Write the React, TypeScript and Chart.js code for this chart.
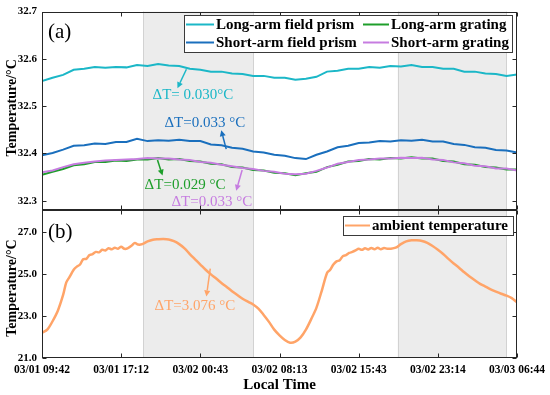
import React, { useEffect, useRef } from 'react';
import { Chart, registerables } from 'chart.js';

Chart.register(...registerables);

const FONT = '"Liberation Serif", "Times New Roman", serif';

// ---- Data ----
const tickHours = [0, 7.5, 15, 22.5, 30, 37.5, 45];
const tickLabels = ['03/01 09:42', '03/01 17:12', '03/02 00:43', '03/02 08:13', '03/02 15:43', '03/02 23:14', '03/03 06:44'];
const topTicks = [32.3, 32.4, 32.5, 32.6, 32.7];
const bottomTicks = [21, 23, 25, 27];
const nightStart = [9.6, 33.7];
const nightEnd = [20.0, 44.0];

const hours = [0, 1, 2, 3, 4, 5, 6, 7, 8, 9, 10, 11, 12, 13, 14, 15, 16, 17, 18, 19, 20, 21, 22, 23, 24, 25, 26, 27, 28, 29, 30, 31, 32, 33, 34, 35, 36, 37, 38, 39, 40, 41, 42, 43, 44, 45];

const longPrism = [32.553, 32.560, 32.566, 32.577, 32.579, 32.583, 32.581, 32.583, 32.582, 32.587, 32.585, 32.589, 32.586, 32.585, 32.579, 32.577, 32.573, 32.573, 32.569, 32.568, 32.564, 32.564, 32.560, 32.560, 32.556, 32.558, 32.562, 32.573, 32.575, 32.579, 32.579, 32.583, 32.581, 32.585, 32.584, 32.587, 32.583, 32.583, 32.579, 32.579, 32.573, 32.573, 32.569, 32.568, 32.564, 32.567];
const shortPrism = [32.396, 32.401, 32.408, 32.416, 32.417, 32.421, 32.420, 32.424, 32.424, 32.431, 32.426, 32.428, 32.427, 32.429, 32.426, 32.426, 32.419, 32.417, 32.412, 32.410, 32.404, 32.402, 32.397, 32.395, 32.390, 32.388, 32.397, 32.404, 32.413, 32.416, 32.422, 32.423, 32.426, 32.425, 32.428, 32.427, 32.429, 32.425, 32.425, 32.420, 32.418, 32.413, 32.412, 32.407, 32.406, 32.402];
const longGrating = [32.355, 32.361, 32.367, 32.375, 32.377, 32.382, 32.382, 32.385, 32.384, 32.387, 32.387, 32.390, 32.387, 32.388, 32.384, 32.383, 32.378, 32.377, 32.371, 32.370, 32.365, 32.364, 32.359, 32.358, 32.354, 32.358, 32.361, 32.371, 32.376, 32.383, 32.384, 32.388, 32.387, 32.390, 32.389, 32.392, 32.389, 32.389, 32.384, 32.383, 32.377, 32.376, 32.371, 32.370, 32.366, 32.366];
const shortGrating = [32.360, 32.364, 32.371, 32.377, 32.380, 32.383, 32.385, 32.386, 32.387, 32.388, 32.390, 32.389, 32.389, 32.387, 32.386, 32.382, 32.380, 32.376, 32.373, 32.369, 32.367, 32.363, 32.361, 32.357, 32.356, 32.357, 32.363, 32.370, 32.378, 32.382, 32.386, 32.387, 32.389, 32.389, 32.391, 32.390, 32.391, 32.387, 32.386, 32.381, 32.379, 32.374, 32.373, 32.368, 32.368, 32.364];

const ambientHours = [0, 0.5, 1.0, 1.5, 2.0, 2.3, 2.6, 3.0, 3.3, 3.6, 3.9, 4.2, 4.5, 4.8, 5.1, 5.4, 5.7, 6.0, 6.3, 6.6, 6.9, 7.2, 7.5, 7.8, 8.1, 8.5, 8.8, 9.1, 9.5, 10.0, 10.5, 11.0, 11.5, 12.0, 12.5, 13.0, 13.5, 14.0, 14.5, 15.0, 15.5, 16.0, 16.5, 17.0, 17.5, 18.0, 18.5, 19.0, 19.5, 20.0, 20.5, 21.0, 21.5, 22.0, 22.5, 23.0, 23.5, 24.0, 24.5, 25.0, 25.5, 26.0, 26.5, 27.0, 27.3, 27.6, 27.9, 28.2, 28.5, 28.8, 29.1, 29.4, 29.7, 30.0, 30.3, 30.6, 30.9, 31.2, 31.5, 31.8, 32.1, 32.4, 32.7, 33.0, 33.5, 34.0, 34.5, 35.0, 35.5, 36.0, 36.5, 37.0, 37.5, 38.0, 38.5, 39.0, 39.5, 40.0, 40.5, 41.0, 41.5, 42.0, 42.5, 43.0, 43.5, 44.0, 44.5, 45.0];
const ambientTemp = [22.20, 22.35, 22.75, 23.25, 24.0, 24.6, 24.85, 25.2, 25.35, 25.45, 25.7, 25.72, 25.9, 25.95, 26.05, 26.03, 26.15, 26.12, 26.22, 26.18, 26.25, 26.2, 26.3, 26.2, 26.22, 26.35, 26.48, 26.4, 26.42, 26.55, 26.63, 26.65, 26.66, 26.64, 26.56, 26.42, 26.22, 25.95, 25.7, 25.45, 25.2, 24.98, 24.78, 24.57, 24.38, 24.18, 24.0, 23.82, 23.68, 23.55, 23.35, 23.05, 22.72, 22.35, 22.08, 21.86, 21.73, 21.78, 21.98, 22.35, 22.85, 23.4, 24.2, 25.05, 25.2, 25.45, 25.6, 25.65, 25.85, 25.9, 26.0, 26.05, 26.12, 26.2, 26.15, 26.22, 26.17, 26.24, 26.18, 26.25, 26.18, 26.24, 26.2, 26.2, 26.25, 26.42, 26.55, 26.6, 26.6, 26.57, 26.48, 26.33, 26.15, 25.95, 25.72, 25.5, 25.3, 25.08, 24.88, 24.7, 24.53, 24.4, 24.27, 24.16, 24.06, 23.97, 23.85, 23.65];

// ---- Styles ----
const C_CYAN = '#1bb7c7';
const C_BLUE = '#1a6fbd';
const C_GREEN = '#1e9e2b';
const C_PURPLE = '#c67ce0';
const C_ORANGE = '#ffa468';

const annotations = [
  { text: 'ΔT= 0.030°C', color: C_CYAN, axis: 'yTop', tx: 10.47, ty: 32.523, x1: 13.68, y1: 32.578, x2: 12.83, y2: 32.538 },
  { text: 'ΔT=0.033 °C', color: C_BLUE, axis: 'yTop', tx: 11.6, ty: 32.464, x1: 17.45, y1: 32.409, x2: 16.98, y2: 32.449 },
  { text: 'ΔT=0.029 °C', color: C_GREEN, axis: 'yTop', tx: 9.72, ty: 32.334, x1: 10.94, y1: 32.386, x2: 11.42, y2: 32.353 },
  { text: 'ΔT=0.033 °C', color: C_PURPLE, axis: 'yTop', tx: 12.26, ty: 32.296, x1: 18.96, y1: 32.365, x2: 18.4, y2: 32.321 },
  { text: 'ΔT=3.076 °C', color: C_ORANGE, axis: 'yBot', tx: 10.66, ty: 23.46, x1: 15.94, y1: 25.25, x2: 15.57, y2: 23.93 },
];

function drawArrow(ctx: CanvasRenderingContext2D, x1: number, y1: number, x2: number, y2: number, color: string) {
  const a = Math.atan2(y2 - y1, x2 - x1);
  const hl = 6, hw = 3;
  const bx = x2 - hl * Math.cos(a), by = y2 - hl * Math.sin(a);
  ctx.strokeStyle = color;
  ctx.fillStyle = color;
  ctx.lineWidth = 1.5;
  ctx.beginPath();
  ctx.moveTo(x1, y1);
  ctx.lineTo(bx, by);
  ctx.stroke();
  ctx.beginPath();
  ctx.moveTo(x2, y2);
  ctx.lineTo(bx + hw * Math.sin(a), by - hw * Math.cos(a));
  ctx.lineTo(bx - hw * Math.sin(a), by + hw * Math.cos(a));
  ctx.closePath();
  ctx.fill();
}

const overlay = {
  id: 'overlay',
  beforeDatasetsDraw(chart: any) {
    const { ctx, chartArea: ca, scales } = chart;
    const xs = scales.x;
    ctx.save();
    for (let i = 0; i < nightStart.length; i++) {
      const x0 = xs.getPixelForValue(nightStart[i]);
      const x1 = xs.getPixelForValue(nightEnd[i]);
      ctx.fillStyle = '#ececec';
      ctx.fillRect(x0, ca.top, x1 - x0, ca.bottom - ca.top);
      ctx.strokeStyle = '#d2d2d2';
      ctx.lineWidth = 1;
      for (const xx of [x0, x1]) {
        ctx.beginPath();
        ctx.moveTo(Math.round(xx) + 0.5, ca.top);
        ctx.lineTo(Math.round(xx) + 0.5, ca.bottom);
        ctx.stroke();
      }
    }
    ctx.restore();
  },
  afterDatasetsDraw(chart: any) {
    const { ctx, chartArea: ca, scales } = chart;
    const xs = scales.x;
    const panels = [scales.yTop, scales.yBot];
    ctx.save();
    // panel boxes and inward ticks
    ctx.strokeStyle = '#262626';
    ctx.lineWidth = 1;
    const L = Math.round(ca.left) + 0.5;
    const R = Math.round(ca.right) - 0.5;
    for (const p of panels) {
      const T = Math.round(p.top) + 0.5;
      const B = Math.round(p.bottom) - 0.5;
      ctx.strokeRect(L, T, R - L, B - T);
      ctx.beginPath();
      for (const t of p.ticks) {
        const y = Math.round(p.getPixelForValue(t.value)) + 0.5;
        ctx.moveTo(L, y); ctx.lineTo(L + 4, y);
        ctx.moveTo(R, y); ctx.lineTo(R - 4, y);
      }
      for (const h of tickHours) {
        const x = Math.round(xs.getPixelForValue(h)) + 0.5;
        ctx.moveTo(x, B); ctx.lineTo(x, B - 4);
        ctx.moveTo(x, T); ctx.lineTo(x, T + 4);
      }
      ctx.stroke();
    }

    // annotations
    ctx.textBaseline = 'middle';
    ctx.textAlign = 'left';
    for (const a of annotations) {
      const ys = scales[a.axis];
      ctx.font = `15px ${FONT}`;
      ctx.fillStyle = a.color;
      ctx.fillText(a.text, xs.getPixelForValue(a.tx), ys.getPixelForValue(a.ty));
      drawArrow(ctx, xs.getPixelForValue(a.x1), ys.getPixelForValue(a.y1), xs.getPixelForValue(a.x2), ys.getPixelForValue(a.y2), a.color);
    }

    // panel letters
    ctx.fillStyle = '#000';
    ctx.font = `21px ${FONT}`;
    ctx.fillText('(a)', ca.left + 6, scales.yTop.top + 21);
    ctx.fillText('(b)', ca.left + 6, scales.yBot.top + 22);

    // top legend
    const drawLegendBox = (x: number, y: number, w: number, h: number) => {
      ctx.fillStyle = '#fff';
      ctx.fillRect(x, y, w, h);
      ctx.strokeStyle = '#3a3a3a';
      ctx.lineWidth = 1;
      ctx.strokeRect(x + 0.5, y + 0.5, w, h);
    };
    const item = (x: number, y: number, color: string, label: string, len: number) => {
      ctx.strokeStyle = color;
      ctx.lineWidth = 2;
      ctx.beginPath();
      ctx.moveTo(x, y); ctx.lineTo(x + len, y);
      ctx.stroke();
      ctx.fillStyle = '#000';
      ctx.font = `bold 15px ${FONT}`;
      ctx.textAlign = 'left';
      ctx.textBaseline = 'middle';
      ctx.fillText(label, x + len + 2, y + 0.5);
    };
    drawLegendBox(184, 15, 328, 37);
    item(186, 24.5, C_CYAN, 'Long-arm field prism', 28);
    item(186, 42.5, C_BLUE, 'Short-arm field prism', 28);
    item(363, 24.5, C_GREEN, 'Long-arm grating', 26);
    item(363, 42.5, C_PURPLE, 'Short-arm grating', 26);

    drawLegendBox(343, 216, 170, 19);
    item(345, 225.5, C_ORANGE, 'ambient temperature', 25);

    // axis titles
    ctx.fillStyle = '#000';
    ctx.font = `bold 14px ${FONT}`;
    ctx.textAlign = 'center';
    ctx.textBaseline = 'middle';
    const yt = [
      { p: scales.yTop, dy: -3 },
      { p: scales.yBot, dy: 4 },
    ];
    for (const { p, dy } of yt) {
      ctx.save();
      ctx.translate(12, (p.top + p.bottom) / 2 + dy);
      ctx.rotate(-Math.PI / 2);
      ctx.fillText('Temperature/°C', 0, 0);
      ctx.restore();
    }
    ctx.font = `bold 15px ${FONT}`;
    ctx.fillText('Local Time', (ca.left + ca.right) / 2, 385);
    ctx.restore();
  },
};

function series(values: number[]) {
  return hours.map((h, i) => ({ x: h, y: values[i] }));
}

export default function App() {
  const ref = useRef<HTMLCanvasElement>(null);
  useEffect(() => {
    document.body.style.margin = '0';
    const tickFont = { family: FONT, size: 11, weight: 'bold' as const };
    const chart = new Chart(ref.current as HTMLCanvasElement, {
      type: 'line',
      data: {
        datasets: [
          { data: series(longPrism), yAxisID: 'yTop', borderColor: C_CYAN, borderWidth: 2, pointRadius: 0, tension: 0 },
          { data: series(shortPrism), yAxisID: 'yTop', borderColor: C_BLUE, borderWidth: 2, pointRadius: 0, tension: 0 },
          { data: series(shortGrating), yAxisID: 'yTop', borderColor: C_PURPLE, borderWidth: 2, pointRadius: 0, tension: 0 },
          { data: series(longGrating), yAxisID: 'yTop', borderColor: C_GREEN, borderWidth: 2, pointRadius: 0, tension: 0 },
          { data: ambientHours.map((h, i) => ({ x: h, y: ambientTemp[i] })), yAxisID: 'yBot', borderColor: C_ORANGE, borderWidth: 2.5, pointRadius: 0, tension: 0.3 },
        ],
      },
      options: {
        responsive: false,
        devicePixelRatio: 1,
        animation: false,
        layout: { padding: { left: 0, right: 31, top: 9, bottom: 0 } },
        plugins: { legend: { display: false }, tooltip: { enabled: false } },
        scales: {
          x: {
            type: 'linear',
            min: 0,
            max: 45,
            grid: { display: false, drawTicks: false },
            border: { display: false },
            ticks: {
              font: { family: FONT, size: 11.5, weight: 'bold' },
              color: '#000',
              padding: 5,
              maxRotation: 0,
              autoSkip: false,
              callback: (v: any) => {
                const idx = tickHours.indexOf(Number(v));
                return idx >= 0 ? tickLabels[idx] : '';
              },
            },
            afterBuildTicks: (s: any) => { s.ticks = tickHours.map((v) => ({ value: v })); },
            afterFit: (s: any) => { s.height = 37; },
          },
          yBot: {
            type: 'linear',
            position: 'left',
            stack: 'panels',
            stackWeight: 149,
            min: 21,
            max: 28.04,
            grid: { display: false, drawTicks: false },
            border: { display: false },
            ticks: { font: tickFont, color: '#000', padding: 5, callback: (v: any) => Number(v).toFixed(1) },
            afterBuildTicks: (s: any) => { s.ticks = bottomTicks.map((v) => ({ value: v })); },
            afterFit: (s: any) => { s.width = 42; },
          },
          yTop: {
            type: 'linear',
            position: 'left',
            stack: 'panels',
            stackWeight: 200,
            min: 32.28,
            max: 32.7,
            grid: { display: false, drawTicks: false },
            border: { display: false },
            ticks: { font: tickFont, color: '#000', padding: 5, callback: (v: any) => Number(v).toFixed(1) },
            afterBuildTicks: (s: any) => { s.ticks = topTicks.map((v) => ({ value: v })); },
            afterFit: (s: any) => { s.width = 42; },
          },
        },
      } as any,
      plugins: [overlay],
    });
    return () => chart.destroy();
  }, []);
  return (
    <div style={{ position: 'absolute', left: 0, top: 0, width: 550, height: 395, background: '#fff' }}>
      <canvas ref={ref} width={550} height={395} style={{ display: 'block' }} />
    </div>
  );
}
